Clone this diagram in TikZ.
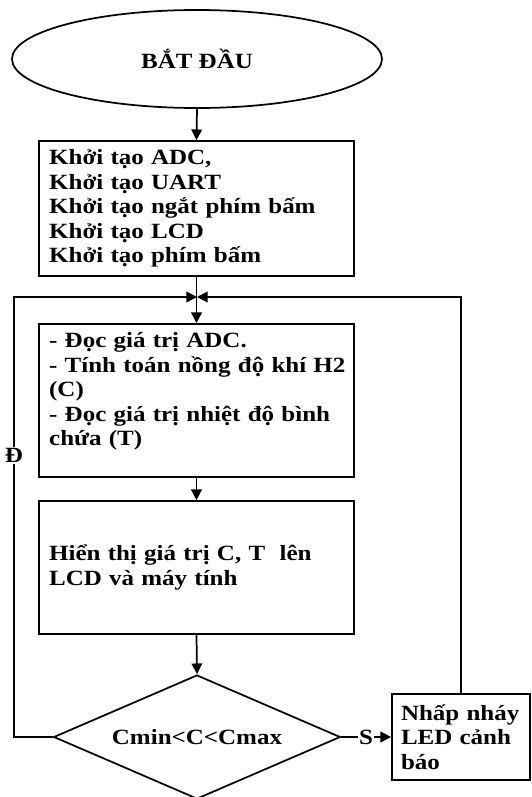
\documentclass[tikz,border=0pt]{standalone}
\usepackage{fontspec}
\setmainfont{Liberation Serif}[FakeStretch=1.15]
\usetikzlibrary{shapes.geometric,arrows.meta}

\begin{document}
\begin{tikzpicture}[x=0.75pt,y=-0.75pt,
	font=\fontsize{16.3pt}{18.4pt}\selectfont\bfseries,
	box/.style={draw, rectangle, align=left, line width=1.3pt},
	flow/.style={line width=1.3pt, -{Triangle[length=8pt,width=8pt]}},
	lbl/.style={fill=white, inner sep=1pt}]
		\useasboundingbox (0,0) rectangle (532,797);

		% khối
		\node[draw, ellipse, line width=1.3pt, minimum width=277.5pt, minimum height=73.5pt] (start) at (197,59) {BẮT ĐẦU};
		\node[box, text width=221pt, inner xsep=7.5pt, minimum height=101.25pt] (init) at (196.5,208.5)
			{Khởi tạo ADC,\\Khởi tạo UART\\Khởi tạo ngắt phím bấm\\Khởi tạo LCD\\Khởi tạo phím bấm};
		\coordinate (join) at (197,297);
		\node[box, text width=221pt, inner xsep=7.5pt, minimum height=114.75pt] (read) at (196.5,400.5)
			{- Đọc giá trị ADC.\\\mbox{- Tính toán nồng độ khí H2}\\(C)\\- Đọc giá trị nhiệt độ bình\\chứa (T)\\[-7pt]\strut};
		\node[box, text width=221pt, inner xsep=7.5pt, minimum height=99.75pt] (show) at (196.5,567.5)
			{Hiển thị giá trị C, T\ \ lên\\LCD và máy tính};
		\node[draw, diamond, aspect=2.3, line width=1.3pt, inner sep=0pt, minimum width=215pt, minimum height=93pt] (decide) at (197,737) {Cmin<C<Cmax};
		\node[box, text width=90pt, inner xsep=6.75pt, minimum height=64.5pt] (led) at (461,737)
			{Nhấp nháy\\LED cảnh\\báo};
		\coordinate (rail) at (14,297);

		% đường nối
		\draw[flow] (start.south) -- (init.north);
		\draw[flow] (init.south) -- (read.north);
		\draw[flow] (read.south) -- (show.north);
		\draw[flow] (show.south) -- (decide.north);
		\draw[flow] (decide.east) -- node[lbl]{S} (led.west);
		\draw[flow] (decide.west) -| node[lbl, pos=0.82]{Đ} (rail) -- (join);
		\draw[flow] (led.north) |- (join);
	\end{tikzpicture}
\end{document}
